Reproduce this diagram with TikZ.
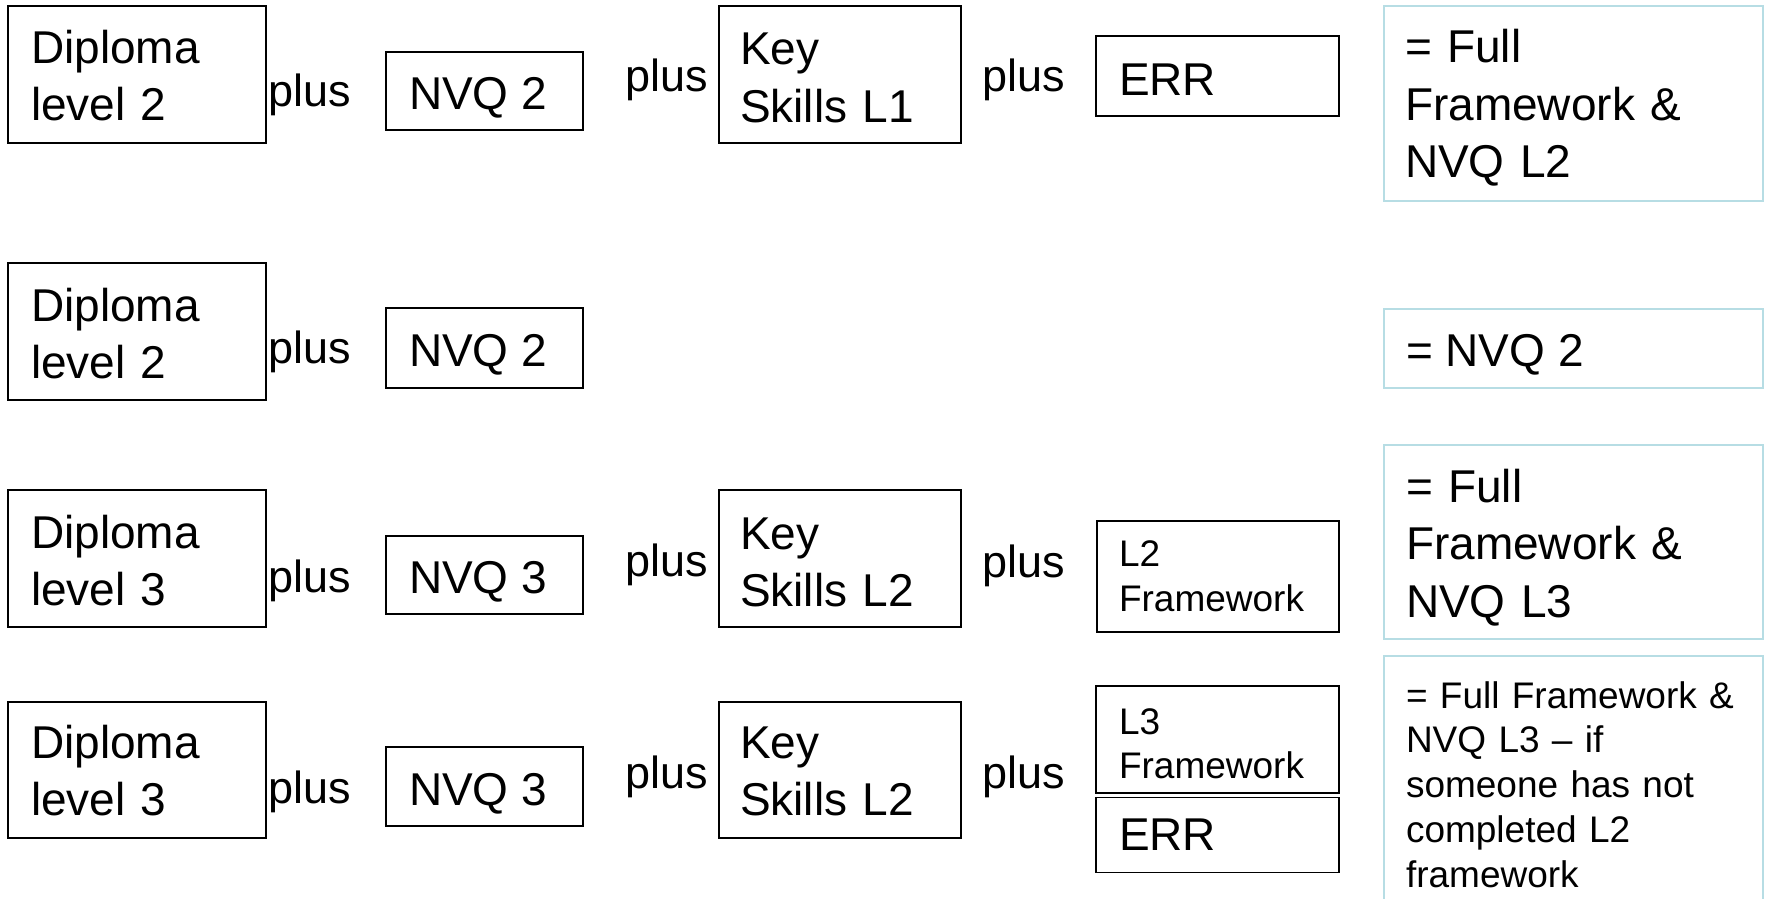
\documentclass[tikz,border=0pt]{standalone}
\usepackage{fontspec}
\setmainfont{Liberation Sans}
\definecolor{resblue}{RGB}{183,221,228}
\tikzset{
  blk/.style={draw=black, line width=2pt, inner sep=0pt, outer sep=0pt, anchor=north west},
  resbox/.style={draw=resblue, line width=2pt, inner sep=0pt, outer sep=0pt, anchor=north west},
  big/.style={font=\fontsize{46}{57.4}\selectfont, anchor=base west, inner sep=0pt, outer sep=0pt, align=left},
  small/.style={font=\fontsize{37}{44.8}\selectfont, anchor=base west, inner sep=0pt, outer sep=0pt, align=left},
  plustxt/.style={font=\fontsize{45}{54}\selectfont, anchor=base west, inner sep=0pt, outer sep=0pt},
}
\begin{document}
\begin{tikzpicture}[x=1pt,y=-1pt]
\useasboundingbox (0,0) rectangle (1766,899);

% ---------- Row 1 ----------
\node[blk, minimum width=257.5pt, minimum height=137pt] (dipA) at (8,6) {};
\node[big, text width=230pt] (dipAt) at (31,63.3) {Diploma\\level 2};
\node[plustxt] (plusA1) at (268,106.7) {plus};
\node[blk, minimum width=197pt, minimum height=78pt] (nvqA) at (386,52) {};
\node[big] (nvqAt) at (409,109) {NVQ 2};
\node[plustxt] (plusA2) at (625,91.7) {plus};
\node[blk, minimum width=241.5pt, minimum height=137pt] (ksA) at (719,6) {};
\node[big, text width=215pt] (ksAt) at (740,65) {Key\\Skills L1};
\node[plustxt] (plusA3) at (982,91.7) {plus};
\node[blk, minimum width=243pt, minimum height=80pt] (errA) at (1096,36) {};
\node[big] (errAt) at (1119,95) {ERR};
\node[resbox, minimum width=379pt, minimum height=195pt] (resA) at (1384,6) {};
\node[big, text width=350pt] (resAt) at (1405,63) {= Full\\Framework \&\\NVQ L2};

% ---------- Row 2 ----------
\node[blk, minimum width=257.5pt, minimum height=137pt] (dipB) at (8,263) {};
\node[big, text width=230pt] (dipBt) at (31,321) {Diploma\\level 2};
\node[plustxt] (plusB1) at (268,363) {plus};
\node[blk, minimum width=197pt, minimum height=80pt] (nvqB) at (386,308) {};
\node[big] (nvqBt) at (409,366) {NVQ 2};
\node[resbox, minimum width=379pt, minimum height=79pt] (resB) at (1384,309) {};
\node[big] (resBt) at (1406,366) {= NVQ 2};

% ---------- Row 3 ----------
\node[blk, minimum width=257.5pt, minimum height=137pt] (dipC) at (8,490) {};
\node[big, text width=230pt] (dipCt) at (31,548) {Diploma\\level 3};
\node[plustxt] (plusC1) at (268,592) {plus};
\node[blk, minimum width=197pt, minimum height=78pt] (nvqC) at (386,536) {};
\node[big] (nvqCt) at (409,593) {NVQ 3};
\node[plustxt] (plusC2) at (625,576) {plus};
\node[blk, minimum width=241.5pt, minimum height=137pt] (ksC) at (719,490) {};
\node[big, text width=215pt] (ksCt) at (740,549) {Key\\Skills L2};
\node[plustxt] (plusC3) at (982,577) {plus};
\node[blk, minimum width=242.5pt, minimum height=111pt] (fwC) at (1096.5,520.7) {};
\node[small, text width=215pt] (fwCt) at (1119,566.7) {L2\\Framework};
\node[resbox, minimum width=379pt, minimum height=194pt] (resC) at (1384,445) {};
\node[big, text width=350pt] (resCt) at (1406,502.3) {= Full\\Framework \&\\NVQ L3};

% ---------- Row 4 ----------
\node[blk, minimum width=257.5pt, minimum height=136pt] (dipD) at (8,702) {};
\node[big, text width=230pt] (dipDt) at (31,758) {Diploma\\level 3};
\node[plustxt] (plusD1) at (268,803) {plus};
\node[blk, minimum width=197pt, minimum height=79pt] (nvqD) at (386,747) {};
\node[big] (nvqDt) at (409,805) {NVQ 3};
\node[plustxt] (plusD2) at (625,788) {plus};
\node[blk, minimum width=241.5pt, minimum height=136pt] (ksD) at (719,702) {};
\node[big, text width=215pt] (ksDt) at (740,758) {Key\\Skills L2};
\node[plustxt] (plusD3) at (982,788) {plus};
\node[blk, line width=1.6pt, minimum width=243pt, minimum height=107pt] (fwD) at (1096,686) {};
\node[small, text width=215pt] (fwDt) at (1119,734) {L3\\Framework};
\node[blk, line width=1.6pt, minimum width=243pt, minimum height=75pt] (errD) at (1096,797.3) {};
\node[big] (errDt) at (1119,850) {ERR};
\begin{scope}
  \clip (0,0) rectangle (1766,899);
  \node[resbox, minimum width=379pt, minimum height=260pt] (resD) at (1384,656) {};
\end{scope}
\node[small, text width=355pt] (resDt) at (1406,708) {= Full Framework \&\\NVQ L3 – if\\someone has not\\completed L2\\framework};
\end{tikzpicture}
\end{document}
